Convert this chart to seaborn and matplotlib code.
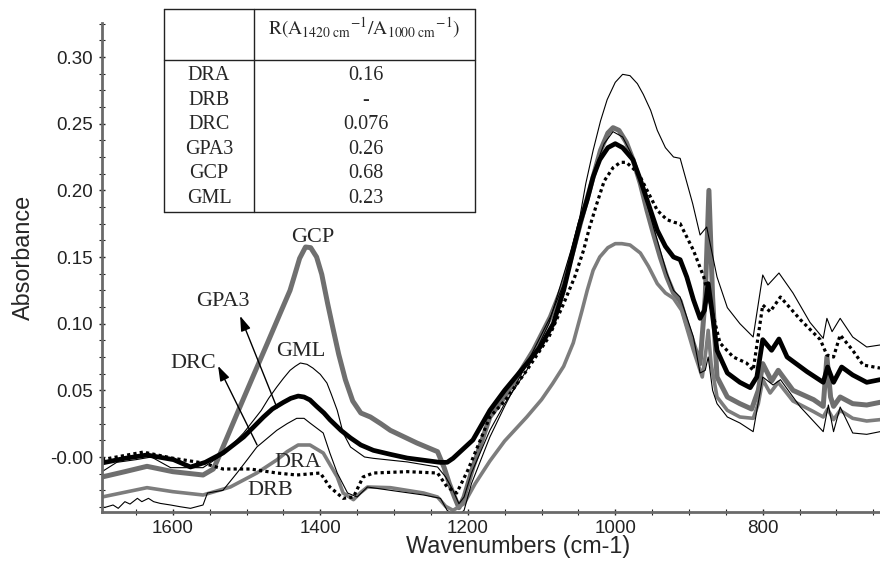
import matplotlib
matplotlib.use("Agg")
import matplotlib.pyplot as plt
from matplotlib.lines import Line2D
from matplotlib.ticker import MultipleLocator, FixedLocator, FixedFormatter
import seaborn as sns

sns.set_style("ticks")
plt.rcParams["font.family"] = ["Liberation Sans", "DejaVu Sans"]
plt.rcParams["mathtext.fontset"] = "stix"

# ---- FTIR spectra (wavenumber in cm-1, absorbance) ----
gcp_wn = [1696, 1665, 1635, 1600, 1559, 1545, 1540, 1509, 1490, 1472, 1455, 1441, 1435,
          1428, 1420, 1413, 1405, 1398, 1390, 1383, 1375, 1366, 1356, 1345, 1332, 1318,
          1305, 1269, 1241, 1232, 1225, 1218, 1212, 1205, 1193, 1170, 1150, 1111, 1088,
          1070, 1057, 1045, 1030, 1020, 1010, 1003, 995, 985, 976, 966, 957, 948, 939,
          930, 921, 912, 903, 894, 885, 878, 873, 868, 862, 848, 831, 815, 806, 800, 788,
          779, 759, 731, 718, 713, 708, 704, 695, 678, 659, 641]
gcp_abs = [-0.015, -0.011, -0.007, -0.011, -0.0135, -0.009, -0.003, 0.0375, 0.062, 0.085,
           0.107, 0.125, 0.136, 0.149, 0.1575, 0.157, 0.15, 0.137, 0.115, 0.097, 0.077,
           0.058, 0.042, 0.033, 0.030, 0.025, 0.020, 0.0105, 0.004, -0.008, -0.02, -0.03,
           -0.038, -0.03, -0.0075, 0.03, 0.045, 0.08, 0.105, 0.13, 0.155, 0.18, 0.21, 0.23,
           0.243, 0.247, 0.245, 0.236, 0.223, 0.205, 0.185, 0.167, 0.15, 0.135, 0.123,
           0.117, 0.10, 0.085, 0.07, 0.12, 0.2, 0.12, 0.06, 0.045, 0.04, 0.036, 0.05, 0.07,
           0.057, 0.065, 0.05, 0.043, 0.038, 0.075, 0.045, 0.038, 0.045, 0.040, 0.039,
           0.041]

gpa3_wn = [1696, 1665, 1635, 1599, 1576, 1556, 1532, 1504, 1477, 1465, 1450, 1440, 1430,
           1422, 1414, 1405, 1395, 1387, 1372, 1359, 1345, 1328, 1305, 1282, 1238, 1228,
           1220, 1193, 1170, 1150, 1120, 1102, 1084, 1070, 1057, 1048, 1038, 1030, 1021,
           1010, 1000, 990, 976, 966, 957, 943, 932, 921, 912, 903, 894, 885, 879, 874,
           869, 862, 848, 831, 817, 808, 800, 788, 778, 767, 740, 718, 712, 704, 693, 678,
           659, 641]
gpa3_abs = [-0.0045, -0.001, 0.0015, -0.002, -0.0075, -0.004, 0.003, 0.015, 0.030, 0.036,
            0.041, 0.044, 0.0457, 0.045, 0.0428, 0.038, 0.033, 0.028, 0.02, 0.0143, 0.009,
            0.005, 0.002, -0.0008, -0.004, -0.004, -0.001, 0.0128, 0.035, 0.05, 0.07,
            0.0825, 0.1, 0.125, 0.155, 0.175, 0.193, 0.21, 0.223, 0.232, 0.235, 0.232,
            0.223, 0.208, 0.193, 0.17, 0.158, 0.15, 0.148, 0.135, 0.118, 0.104, 0.11, 0.13,
            0.11, 0.08, 0.063, 0.056, 0.052, 0.06, 0.088, 0.080, 0.0885, 0.075, 0.064,
            0.056, 0.0675, 0.056, 0.0675, 0.0615, 0.056, 0.058]

gml_wn = [1696, 1676, 1650, 1629, 1603, 1559, 1532, 1504, 1480, 1470, 1459, 1450, 1441,
          1434, 1427, 1418, 1410, 1400, 1391, 1385, 1377, 1369, 1359, 1340, 1328, 1282,
          1241, 1230, 1220, 1212, 1205, 1195, 1170, 1150, 1120, 1090, 1060, 1048, 1040,
          1030, 1020, 1011, 1000, 990, 980, 970, 962, 952, 943, 932, 921, 912, 905, 895,
          885, 876, 862, 848, 831, 813, 800, 793, 778, 759, 736, 718, 713, 706, 695, 678,
          659, 641]
gml_abs = [-0.011, -0.004, -0.002, 0.0, -0.008, -0.008, 0.002, 0.018, 0.035, 0.044, 0.0525,
           0.059, 0.065, 0.068, 0.0705, 0.0695, 0.0667, 0.062, 0.0555, 0.047, 0.035, 0.018,
           0.0075, 0.0, -0.001, -0.0037, -0.0075, -0.015, -0.025, -0.035, -0.03, -0.012,
           0.02, 0.04, 0.065, 0.1, 0.155, 0.18, 0.205, 0.23, 0.252, 0.268, 0.281, 0.287,
           0.286, 0.28, 0.272, 0.26, 0.245, 0.232, 0.225, 0.224, 0.21, 0.19, 0.1665,
           0.1725, 0.135, 0.112, 0.10, 0.09, 0.1365, 0.129, 0.138, 0.123, 0.101, 0.089,
           0.104, 0.094, 0.104, 0.09, 0.0825, 0.084]

drb_wn = [1696, 1640, 1599, 1559, 1532, 1495, 1459, 1432, 1400, 1387, 1369, 1355, 1342,
          1328, 1282, 1241, 1228, 1215, 1200, 1170, 1150, 1120, 1090, 1070, 1055, 1043,
          1035, 1025, 1015, 1003, 993, 985, 975, 966, 955, 943, 930, 920, 912, 903, 894,
          880, 858, 840, 822, 813, 800, 790, 776, 749, 722, 713, 704, 695, 678, 664, 641]
drb_abs = [-0.002, 0.0037, -0.001, -0.0045, -0.009, -0.009, -0.012, -0.0135, -0.012,
           -0.0225, -0.031, -0.030, -0.015, -0.012, -0.011, -0.012, -0.0225, -0.027, -0.01,
           0.03, 0.042, 0.065, 0.09, 0.115, 0.135, 0.155, 0.172, 0.19, 0.207, 0.217, 0.221,
           0.221, 0.216, 0.21, 0.198, 0.185, 0.178, 0.176, 0.175, 0.165, 0.155, 0.135,
           0.0855, 0.075, 0.0705, 0.065, 0.114, 0.109, 0.12, 0.103, 0.088, 0.0765, 0.075,
           0.0915, 0.080, 0.069, 0.0667]

dra_wn = [1696, 1635, 1600, 1559, 1522, 1486, 1459, 1445, 1430, 1414, 1396, 1377, 1369,
          1355, 1346, 1336, 1305, 1260, 1241, 1230, 1220, 1205, 1190, 1170, 1150, 1120,
          1100, 1085, 1070, 1057, 1045, 1038, 1030, 1021, 1010, 1000, 991, 980, 966, 955,
          943, 932, 921, 910, 894, 882, 877, 874, 870, 862, 848, 831, 813, 806, 800, 790,
          779, 759, 731, 718, 712, 704, 695, 678, 659, 641]
dra_abs = [-0.030, -0.023, -0.026, -0.0285, -0.0225, -0.012, -0.0022, 0.004, 0.009, 0.009,
           0.003, -0.015, -0.027, -0.032, -0.027, -0.0225, -0.023, -0.027, -0.030, -0.037,
           -0.04, -0.035, -0.02, -0.003, 0.012, 0.03, 0.043, 0.055, 0.068, 0.0855, 0.11,
           0.125, 0.14, 0.15, 0.157, 0.16, 0.16, 0.159, 0.153, 0.143, 0.13, 0.123, 0.119,
           0.11, 0.08, 0.06, 0.08, 0.095, 0.07, 0.045, 0.035, 0.03, 0.029, 0.04, 0.058,
           0.048, 0.056, 0.042, 0.034, 0.03, 0.036, 0.028, 0.035, 0.029, 0.027, 0.028]

drc_wn = [1696, 1692, 1681, 1674, 1665, 1658, 1648, 1642, 1633, 1626, 1617, 1603, 1590,
          1576, 1559, 1553, 1532, 1513, 1499, 1486, 1459, 1445, 1432, 1422, 1414, 1396,
          1387, 1377, 1363, 1350, 1336, 1305, 1260, 1237, 1228, 1215, 1205, 1195, 1170,
          1150, 1120, 1088, 1070, 1057, 1045, 1030, 1015, 1003, 990, 976, 966, 957, 948,
          939, 930, 921, 912, 894, 885, 878, 874, 868, 862, 848, 831, 813, 800, 786, 776,
          749, 718, 711, 704, 695, 678, 659, 641]
drc_abs = [-0.0375, -0.0378, -0.036, -0.0385, -0.0335, -0.0353, -0.031, -0.0335, -0.031,
           -0.0335, -0.0348, -0.036, -0.0373, -0.0385, -0.036, -0.027, -0.025, -0.012,
           -0.002, 0.0075, 0.020, 0.025, 0.029, 0.029, 0.0255, 0.018, 0.003, -0.012,
           -0.027, -0.030, -0.0225, -0.025, -0.0285, -0.031, -0.04, -0.045, -0.04, -0.02,
           0.015, 0.038, 0.07, 0.105, 0.13, 0.155, 0.183, 0.213, 0.235, 0.244, 0.24, 0.225,
           0.207, 0.19, 0.172, 0.155, 0.138, 0.125, 0.12, 0.09, 0.063, 0.065, 0.075, 0.05,
           0.04, 0.030, 0.0255, 0.019, 0.06, 0.054, 0.058, 0.0375, 0.019, 0.039, 0.019,
           0.0375, 0.018, 0.017, 0.019]

# ---- carbonate band ratio table ----
samples = ["DRA", "DRB", "DRC", "GPA3", "GCP", "GML"]
ratios = ["0.16", "-", "0.076", "0.26", "0.68", "0.23"]

y_ticks = [0.0, 0.05, 0.10, 0.15, 0.20, 0.25, 0.30]
y_tick_labels = ["-0.00", "0.05", "0.10", "0.15", "0.20", "0.25", "0.30"]
x_ticks = [1600, 1400, 1200, 1000, 800]

W, H = 880, 561
fig = plt.figure(figsize=(W / 100, H / 100), dpi=100)
ax = fig.add_axes([102 / W, 1 - 512 / H, 778 / W, 489 / H])

gray = "#6f6f6f"
series = [
    (gcp_wn, gcp_abs, dict(color=gray, linewidth=3.6)),
    (dra_wn, dra_abs, dict(color="#7d7d7d", linewidth=2.6)),
    (drc_wn, drc_abs, dict(color="black", linewidth=0.8)),
    (gml_wn, gml_abs, dict(color="black", linewidth=0.8)),
    (drb_wn, drb_abs, dict(color="black", linewidth=2.3, linestyle=(0, (1, 1)))),
    (gpa3_wn, gpa3_abs, dict(color="black", linewidth=3.4)),
]
for wn, ab, style in series:
    sns.lineplot(x=wn, y=ab, ax=ax, estimator=None, sort=False, **style)

ax.set_xlim(1696, 641)
ax.set_ylim(-0.04125, 0.3255)

ax.xaxis.set_major_locator(FixedLocator(x_ticks))
ax.xaxis.set_minor_locator(MultipleLocator(50))
ax.yaxis.set_major_locator(FixedLocator(y_ticks))
ax.yaxis.set_major_formatter(FixedFormatter(y_tick_labels))
ax.yaxis.set_minor_locator(MultipleLocator(0.0125))

ax.tick_params(axis="both", which="major", direction="inout", length=5, width=1,
               labelsize=13.5, colors="#222222")
ax.tick_params(axis="both", which="minor", direction="inout", length=4, width=0.8,
               colors="#222222")
ax.tick_params(axis="x", pad=3)
ax.tick_params(axis="y", pad=4)

for side in ("top", "right"):
    ax.spines[side].set_visible(False)
for side in ("left", "bottom"):
    ax.spines[side].set_color("#6a6a6a")
    ax.spines[side].set_linewidth(2.0)

ax.set_xlabel("Wavenumbers (cm-1)", fontsize=16.8)
ax.set_ylabel("Absorbance", fontsize=16.8)
ax.xaxis.set_label_coords(0.535, -0.047)
ax.yaxis.set_label_coords(-0.086, 0.52)

# ---- curve labels and arrows ----
serif = ["Liberation Serif", "DejaVu Serif"]
lab_kw = dict(fontsize=16, family=serif, ha="center", va="center")
ax.text(1410, 0.165, "GCP", **lab_kw)
ax.text(1532, 0.117, "GPA3", **lab_kw)
ax.text(1427, 0.0795, "GML", **lab_kw)
ax.text(1572, 0.0698, "DRC", **lab_kw)
ax.text(1431, -0.0038, "DRA", **lab_kw)
ax.text(1468, -0.0248, "DRB", **lab_kw)

arrow_kw = dict(arrowstyle="-|>,head_length=0.9,head_width=0.3", color="black",
                lw=1.0, shrinkA=0, shrinkB=0)
ax.annotate("", xy=(1508.7, 0.1058), xytext=(1458.6, 0.0368), arrowprops=arrow_kw)
ax.annotate("", xy=(1538.6, 0.0683), xytext=(1485.7, 0.009), arrowprops=arrow_kw)


# ---- ratio table (figure pixel layout) ----
def fx(px):
    return px / W


def fy(py):
    return 1 - py / H


t_left, t_mid, t_right = 164, 254, 475
t_top, t_head, t_bot = 9, 60, 212
line_kw = dict(color="#222222", linewidth=1.0, transform=fig.transFigure)
for x0, y0, x1, y1 in [
    (t_left, t_top, t_right, t_top),
    (t_left, t_bot, t_right, t_bot),
    (t_left, t_head, t_right, t_head),
    (t_left, t_top, t_left, t_bot),
    (t_right, t_top, t_right, t_bot),
    (t_mid, t_top, t_mid, t_bot),
]:
    fig.add_artist(Line2D([fx(x0), fx(x1)], [fy(y0), fy(y1)], **line_kw))

fig.text(fx(364), fy(28),
         r"$\mathrm{R(A_{1420\ cm}{}^{-1}/A_{1000\ cm}{}^{-1})}$",
         fontsize=14, ha="center", va="center")
row_y0, row_dy = 76, 24.4
for i, (name, val) in enumerate(zip(samples, ratios)):
    yy = fy(row_y0 + i * row_dy)
    fig.text(fx(209), yy, name, fontsize=14.5, family=serif, ha="center", va="center")
    fig.text(fx(366), yy, val, fontsize=14.5, family=serif, ha="center", va="center")

fig.savefig("out.png", dpi=100)
